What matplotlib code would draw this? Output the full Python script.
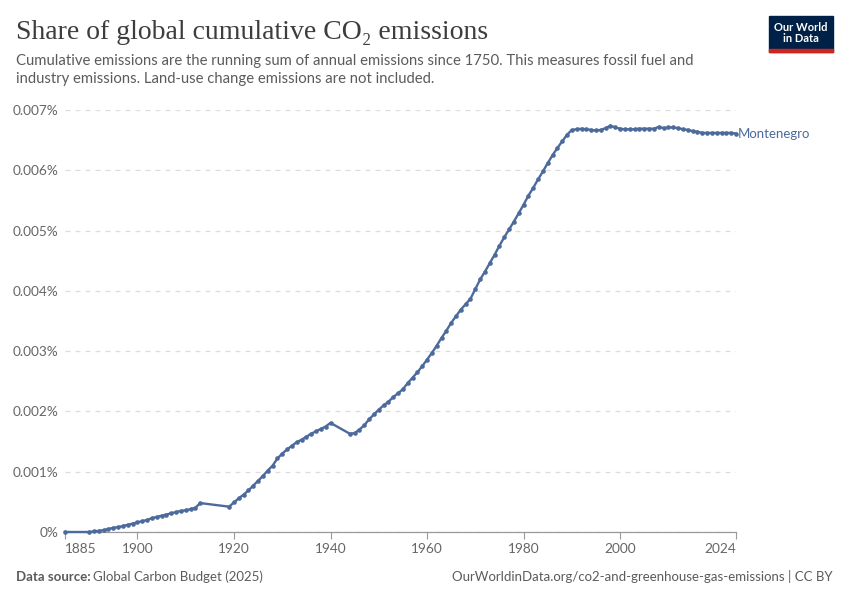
import matplotlib
matplotlib.use('Agg')
import matplotlib.pyplot as plt
from matplotlib.patches import Rectangle

# Share of global cumulative CO2 emissions, Montenegro (values in units of 0.001 %)
years_a = [1885]
share_a = [0.00]

years_b = list(range(1890, 1914))
share_b = [0.00, 0.01, 0.02, 0.03, 0.05, 0.07, 0.08, 0.10, 0.12, 0.14,
           0.16, 0.18, 0.20, 0.23, 0.25, 0.27, 0.29, 0.31, 0.33, 0.35,
           0.36, 0.38, 0.40, 0.48]

years_c = list(range(1919, 1941))
share_c = [0.42, 0.49, 0.56, 0.62, 0.69, 0.77, 0.85, 0.93, 1.02, 1.10,
           1.22, 1.30, 1.37, 1.43, 1.49, 1.53, 1.58, 1.63, 1.67, 1.71,
           1.75, 1.81]

years_d = list(range(1944, 2025))
share_d = [1.63, 1.64, 1.70, 1.77, 1.87, 1.95,
           2.03, 2.10, 2.16, 2.24, 2.30, 2.37, 2.47, 2.56, 2.65, 2.75,
           2.86, 2.97, 3.09, 3.22, 3.34, 3.47, 3.58, 3.69, 3.78, 3.87,
           4.03, 4.19, 4.32, 4.46, 4.60, 4.75, 4.89, 5.02, 5.15, 5.29,
           5.43, 5.58, 5.71, 5.85, 5.98, 6.12, 6.25, 6.37, 6.48, 6.59,
           6.67, 6.68, 6.69, 6.68, 6.67, 6.66, 6.67, 6.70, 6.74, 6.71,
           6.69, 6.68, 6.68, 6.68, 6.69, 6.69, 6.69, 6.69, 6.72, 6.70,
           6.71, 6.71, 6.70, 6.68, 6.67, 6.65, 6.64, 6.62, 6.62, 6.62,
           6.62, 6.62, 6.62, 6.62, 6.61]

years = years_a + years_b + years_c + years_d
share = [v / 1000 for v in share_a + share_b + share_c + share_d]

x_ticks = [1885, 1900, 1920, 1940, 1960, 1980, 2000, 2024]
y_ticks = [0, 0.001, 0.002, 0.003, 0.004, 0.005, 0.006, 0.007]
y_labels = ['0%', '0.001%', '0.002%', '0.003%', '0.004%', '0.005%', '0.006%', '0.007%']

line_color = '#4c6a9c'
text_gray = '#5b5b5b'
tick_gray = '#666666'

plt.rcParams['font.family'] = ['Lato', 'DejaVu Sans']

fig = plt.figure(figsize=(8.5, 6), dpi=100)
ax = fig.add_axes([65 / 850, 1 - 532 / 600, (736 - 65) / 850, (532 - 110) / 600])

ax.plot(years, share, color=line_color, lw=1.7, marker='o', ms=3.3,
        markeredgewidth=0, clip_on=False, zorder=3)

ax.set_xlim(1885, 2024)
ax.set_ylim(0, 0.007)

ax.set_yticks(y_ticks)
ax.set_yticklabels(y_labels)
ax.set_xticks(x_ticks)
ax.set_xticklabels([str(t) for t in x_ticks])
xl = ax.get_xticklabels()
xl[0].set_horizontalalignment('left')
xl[-1].set_horizontalalignment('right')

ax.tick_params(axis='y', length=0, pad=5, labelsize=9.8, labelcolor=tick_gray)
ax.tick_params(axis='x', length=5, width=0.8, color='#999999', pad=3,
               labelsize=9.8, labelcolor=tick_gray)

ax.grid(axis='y', color='#dddddd', linestyle=(0, (4, 4)), lw=0.9)
ax.set_axisbelow(True)
for s in ['top', 'right', 'left']:
    ax.spines[s].set_visible(False)
ax.spines['bottom'].set_color('#999999')
ax.spines['bottom'].set_linewidth(0.9)

ax.text(2024.4, share[-1], 'Montenegro', color=line_color, fontsize=9.5,
        va='center', ha='left', clip_on=False)

# Title and subtitle
fig.text(16 / 850, 1 - 39 / 600, 'Share of global cumulative CO₂ emissions',
         family=['Liberation Serif', 'DejaVu Serif'], fontsize=20,
         color='#3d3d3d', ha='left', va='baseline')
fig.text(16 / 850, 1 - 54 / 600,
         'Cumulative emissions are the running sum of annual emissions since 1750. '
         'This measures fossil fuel and\nindustry emissions. Land-use change emissions are not included.',
         fontsize=10.7, color=text_gray, ha='left', va='top', linespacing=1.35)

# Logo
fig.patches.append(Rectangle((769 / 850, 1 - 52 / 600), 64 / 850, 36 / 600,
                             transform=fig.transFigure, color='#002147'))
fig.patches.append(Rectangle((769 / 850, 1 - 52 / 600), 64 / 850, 3 / 600,
                             transform=fig.transFigure, color='#ce261e'))
fig.text(801 / 850, 1 - 33 / 600, 'Our World\nin Data', color='white',
         fontsize=8, fontweight='bold', ha='center', va='center', linespacing=1.1)

# Footer
fig.text(16 / 850, 1 - 581 / 600, 'Data source:', fontsize=9.5, color=text_gray,
         fontweight='bold', ha='left', va='baseline')
fig.text(93 / 850, 1 - 581 / 600, 'Global Carbon Budget (2025)', fontsize=9.5,
         color=text_gray, ha='left', va='baseline')
fig.text(833 / 850, 1 - 581 / 600,
         'OurWorldinData.org/co2-and-greenhouse-gas-emissions | CC BY',
         fontsize=9.5, color=text_gray, ha='right', va='baseline')

fig.savefig('out.png', dpi=100)
